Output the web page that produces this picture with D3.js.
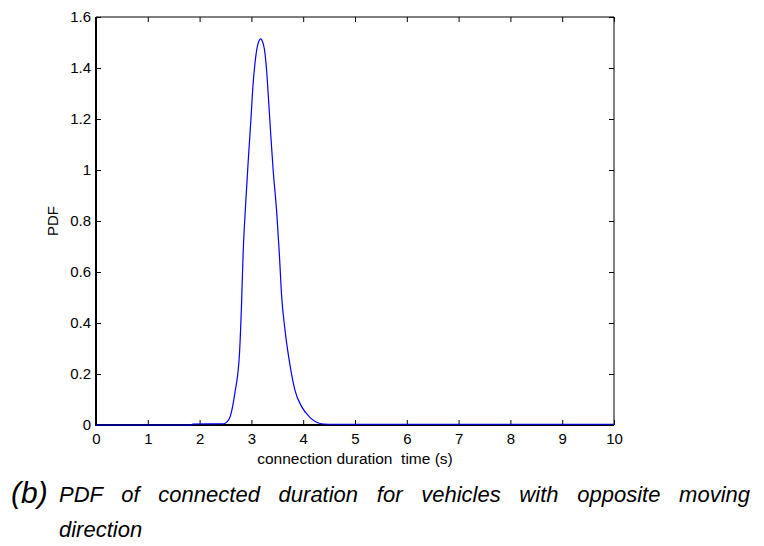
<!DOCTYPE html>
<html>
<head>
<meta charset="utf-8">
<script src="https://cdn.jsdelivr.net/npm/d3@7"></script>
<style>
  html, body { margin: 0; padding: 0; background: #fff; }
  svg { display: block; }
  text { font-family: "Liberation Sans", Arial, Helvetica, sans-serif; fill: #000; white-space: pre; }
</style>
</head>
<body>
<svg id="chart" width="764" height="546"></svg>
<script>
// Connection duration time (s) and estimated PDF values
const durationTime = [0, 1.85, 1.86, 2.46, 2.53, 2.59, 2.68, 2.77, 2.81, 2.84, 2.89, 2.94, 2.99, 3.03, 3.07, 3.11, 3.15, 3.18, 3.21, 3.25, 3.29, 3.33, 3.37, 3.42, 3.49, 3.54, 3.58, 3.65, 3.75, 3.84, 3.97, 4.13, 4.39, 4.6, 10];
const pdfValues    = [0, 0, 0.004, 0.005, 0.012, 0.033, 0.124, 0.28, 0.477, 0.67, 0.87, 1.04, 1.196, 1.33, 1.42, 1.48, 1.508, 1.514, 1.506, 1.475, 1.40, 1.28, 1.15, 1.0, 0.83, 0.67, 0.516, 0.37, 0.229, 0.137, 0.072, 0.03, 0.004, 0.003, 0.003];

const xTicks = [0, 1, 2, 3, 4, 5, 6, 7, 8, 9, 10];
const yTicks = [0, 0.2, 0.4, 0.6, 0.8, 1, 1.2, 1.4, 1.6];

const xLabel = "connection duration  time (s)";
const yLabel = "PDF";
const captionTag = "(b)";
const captionLine1 = "PDF of connected duration for vehicles with opposite moving";
const captionLine2 = "direction";

const svg = d3.select("#chart");
const plot = { left: 96, right: 614, top: 17, bottom: 425 };

const x = d3.scaleLinear().domain([0, 10]).range([plot.left, plot.right]);
const y = d3.scaleLinear().domain([0, 1.6]).range([plot.bottom, plot.top]);

// Axes with inward ticks on all four sides (boxed plot)
const fmt = d => String(+d.toFixed(1));

const gB = svg.append("g").attr("transform", `translate(0,${plot.bottom})`)
  .call(d3.axisBottom(x).tickValues(xTicks).tickSize(-5).tickPadding(8).tickFormat(fmt));
const gT = svg.append("g").attr("transform", `translate(0,${plot.top})`)
  .call(d3.axisTop(x).tickValues(xTicks).tickSize(-5).tickFormat(""));
const gL = svg.append("g").attr("transform", `translate(${plot.left},0)`)
  .call(d3.axisLeft(y).tickValues(yTicks).tickSize(-5).tickPadding(9).tickFormat(fmt));
const gR = svg.append("g").attr("transform", `translate(${plot.right},0)`)
  .call(d3.axisRight(y).tickValues(yTicks).tickSize(-5).tickFormat(""));

[gB, gT, gL, gR].forEach(g => {
  g.select(".domain").remove();
  g.selectAll(".tick line").attr("stroke", "#000").attr("stroke-width", 1);
  g.selectAll(".tick text").style("font-size", "15px").attr("fill", "#000");
});
gL.selectAll(".tick text").attr("dx", "4");

// Plot frame: left and bottom heavier, top and right thin
svg.append("line").attr("x1", plot.left).attr("x2", plot.right).attr("y1", plot.top).attr("y2", plot.top)
  .attr("stroke", "#000").attr("stroke-width", 1);
svg.append("line").attr("x1", plot.right).attr("x2", plot.right).attr("y1", plot.top).attr("y2", plot.bottom)
  .attr("stroke", "#000").attr("stroke-width", 1);
svg.append("line").attr("x1", plot.left).attr("x2", plot.left).attr("y1", plot.top).attr("y2", plot.bottom + 1)
  .attr("stroke", "#000").attr("stroke-width", 2);
svg.append("line").attr("x1", plot.left - 1).attr("x2", plot.right).attr("y1", plot.bottom).attr("y2", plot.bottom)
  .attr("stroke", "#000").attr("stroke-width", 2);

// PDF curve
const pts = durationTime.map((t, i) => [t, pdfValues[i]]);
const line = d3.line().x(d => x(d[0])).y(d => y(d[1])).curve(d3.curveMonotoneX);
svg.append("path").datum(pts)
  .attr("d", line)
  .attr("fill", "none")
  .attr("stroke", "#0000ff")
  .attr("stroke-width", 1.2);

// Axis titles
svg.append("text")
  .attr("x", (plot.left + plot.right) / 2).attr("y", 464)
  .attr("text-anchor", "middle").style("font-size", "15.5px")
  .text(xLabel);
svg.append("text")
  .attr("transform", `translate(58,${(plot.top + plot.bottom) / 2}) rotate(-90)`)
  .attr("text-anchor", "middle").style("font-size", "15px")
  .text(yLabel);

// Figure caption
svg.append("text")
  .attr("x", 11).attr("y", 503)
  .style("font-size", "30px").style("font-style", "italic")
  .text(captionTag);

const cap = svg.append("text")
  .attr("x", 59).attr("y", 502)
  .style("font-size", "22px").style("font-style", "italic")
  .text(captionLine1);
// justify the first caption line across the page width by widening word gaps
const targetW = 750 - 59;
const natural = cap.node().getComputedTextLength();
const gaps = captionLine1.split(" ").length - 1;
cap.style("word-spacing", ((targetW - natural) / gaps) + "px");

svg.append("text")
  .attr("x", 59).attr("y", 537)
  .style("font-size", "22px").style("font-style", "italic")
  .text(captionLine2);
</script>
</body>
</html>
